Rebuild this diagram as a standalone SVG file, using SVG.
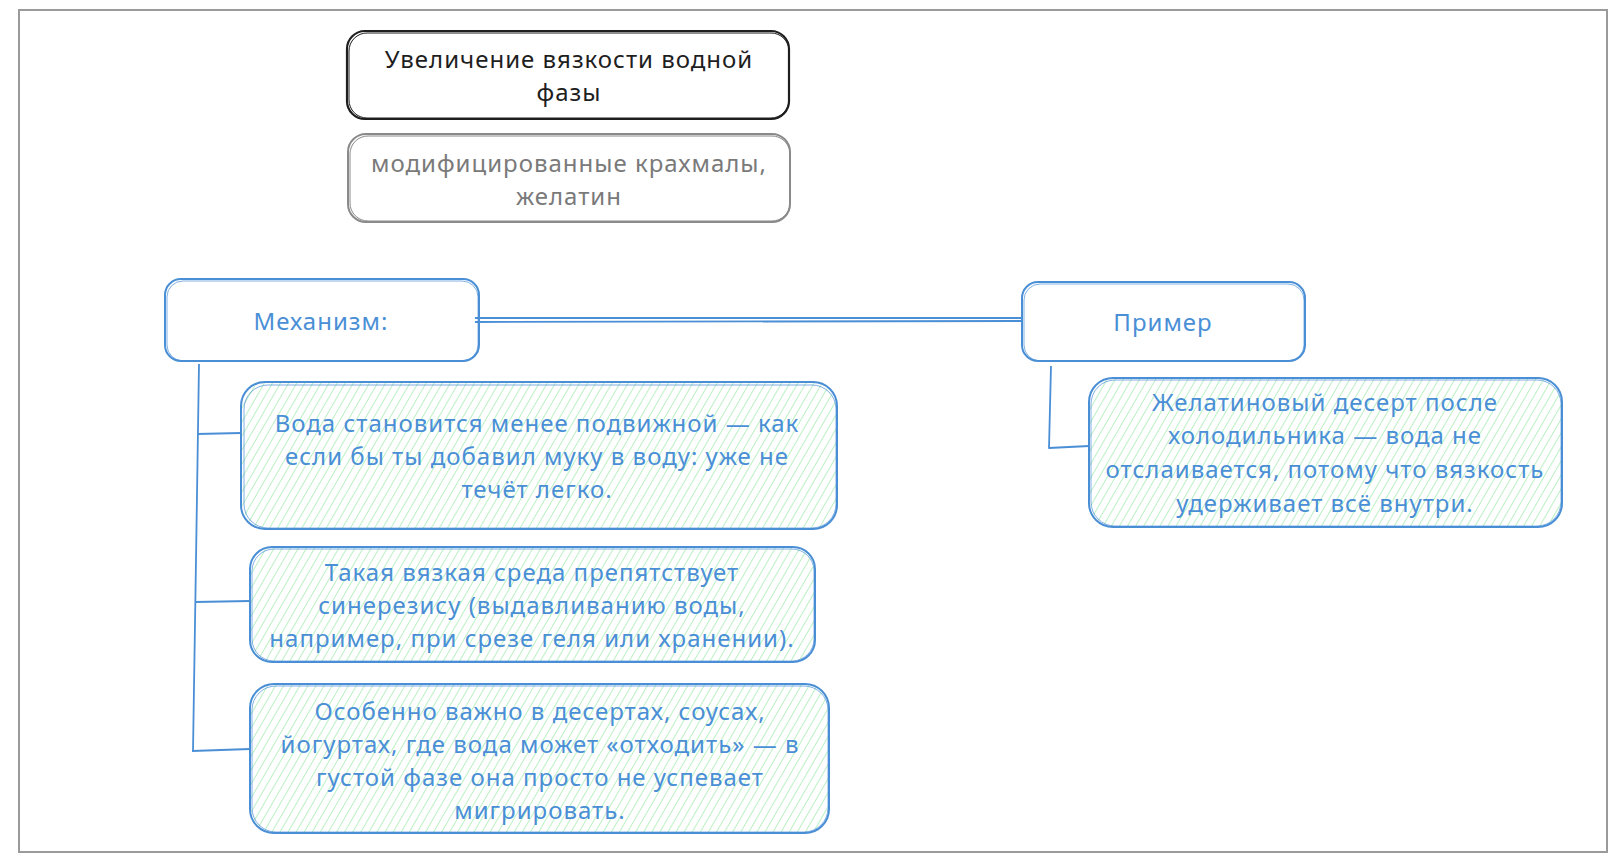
<svg xmlns="http://www.w3.org/2000/svg" width="1618" height="864" viewBox="0 0 1618 864">
<style>
.t{font-family:"Noto Sans","Liberation Sans",sans-serif;font-size:24px;letter-spacing:1px;text-anchor:middle;dominant-baseline:central}
.blue{fill:#4a8fd6}
.blk{fill:#1e1e1e}
.gry{fill:#7a7a7a}
.sb{fill:none;stroke:#4a8fd6;stroke-width:2}
.sb2{fill:none;stroke:#4a8fd6;stroke-width:1;opacity:.7}
.fillg{fill:url(#hach);stroke:none}
.conn{fill:none;stroke:#4a8fd6;stroke-width:1.8;stroke-linejoin:round}
</style>
<defs>
<pattern id="hach" patternUnits="userSpaceOnUse" width="7" height="7" patternTransform="rotate(30)">
<line x1="0" y1="0" x2="0" y2="7" stroke="#a9ecb4" stroke-width="1.6"/>
</pattern>
</defs>
<rect x="0" y="0" width="1618" height="864" fill="#ffffff"/>
<g id="frame">
<rect x="19" y="10" width="1588" height="842" fill="none" stroke="#9a9a9a" stroke-width="2"/>
</g>
<g id="connectors">
<path class="conn" d="M475 318 L1022 318 M475 322 L1022 321"/>
<path class="conn" d="M199 364 L196 560 L193 751"/>
<path class="conn" d="M197 434 L241 433"/>
<path class="conn" d="M195 602 L250 601"/>
<path class="conn" d="M192 751 L250 749"/>
<path class="conn" d="M1051 366 L1049 448 L1089 446"/>
</g>
<g id="title">
<rect x="347" y="31" width="442" height="88" rx="18" fill="none" stroke="#1e1e1e" stroke-width="2.2"/>
<rect x="349" y="33" width="440" height="85" rx="18" fill="none" stroke="#1e1e1e" stroke-width="1"/>
<text class="t blk" x="569" y="58">Увеличение вязкости водной</text>
<text class="t blk" x="569" y="91">фазы</text>
</g>
<g id="materials">
<rect x="348" y="134" width="442" height="88" rx="18" fill="none" stroke="#8a8a8a" stroke-width="2"/>
<rect x="350" y="136" width="440" height="85" rx="18" fill="none" stroke="#8a8a8a" stroke-width="1"/>
<text class="t gry" x="569" y="162">модифицированные крахмалы,</text>
<text class="t gry" x="569" y="195">желатин</text>
</g>
<g id="mechanism">
<rect class="sb" x="165" y="279" width="314" height="82" rx="16"/>
<rect class="sb2" x="167" y="281" width="311" height="80" rx="16"/>
<text class="t blue" x="321" y="320">Механизм:</text>
</g>
<g id="example">
<rect class="sb" x="1022" y="282" width="283" height="79" rx="16"/>
<rect class="sb2" x="1024" y="284" width="280" height="77" rx="16"/>
<text class="t blue" x="1163" y="321">Пример</text>
</g>
<g id="mech1">
<rect class="fillg" x="242" y="383" width="594" height="145" rx="24"/>
<rect class="sb" x="241" y="382" width="596" height="147" rx="24"/>
<rect class="sb2" x="244" y="385" width="592" height="143" rx="24"/>
<text class="t blue" x="537" y="422">Вода становится менее подвижной — как</text>
<text class="t blue" x="537" y="455">если бы ты добавил муку в воду: уже не</text>
<text class="t blue" x="537" y="488">течёт легко.</text>
</g>
<g id="mech2">
<rect class="fillg" x="251" y="548" width="563" height="113" rx="22"/>
<rect class="sb" x="250" y="547" width="565" height="115" rx="22"/>
<rect class="sb2" x="252" y="549" width="562" height="112" rx="22"/>
<text class="t blue" x="532" y="571">Такая вязкая среда препятствует</text>
<text class="t blue" x="532" y="604">синерезису (выдавливанию воды,</text>
<text class="t blue" x="532" y="637">например, при срезе геля или хранении).</text>
</g>
<g id="mech3">
<rect class="fillg" x="251" y="685" width="577" height="147" rx="24"/>
<rect class="sb" x="250" y="684" width="579" height="149" rx="24"/>
<rect class="sb2" x="252" y="686" width="576" height="146" rx="24"/>
<text class="t blue" x="540" y="710">Особенно важно в десертах, соусах,</text>
<text class="t blue" x="540" y="743">йогуртах, где вода может «отходить» — в</text>
<text class="t blue" x="540" y="776">густой фазе она просто не успевает</text>
<text class="t blue" x="540" y="809">мигрировать.</text>
</g>
<g id="example1">
<rect class="fillg" x="1090" y="379" width="471" height="147" rx="24"/>
<rect class="sb" x="1089" y="378" width="473" height="149" rx="24"/>
<rect class="sb2" x="1091" y="380" width="470" height="146" rx="24"/>
<text class="t blue" x="1325" y="401">Желатиновый десерт после</text>
<text class="t blue" x="1325" y="434">холодильника — вода не</text>
<text class="t blue" x="1325" y="468">отслаивается, потому что вязкость</text>
<text class="t blue" x="1325" y="502">удерживает всё внутри.</text>
</g>
</svg>
